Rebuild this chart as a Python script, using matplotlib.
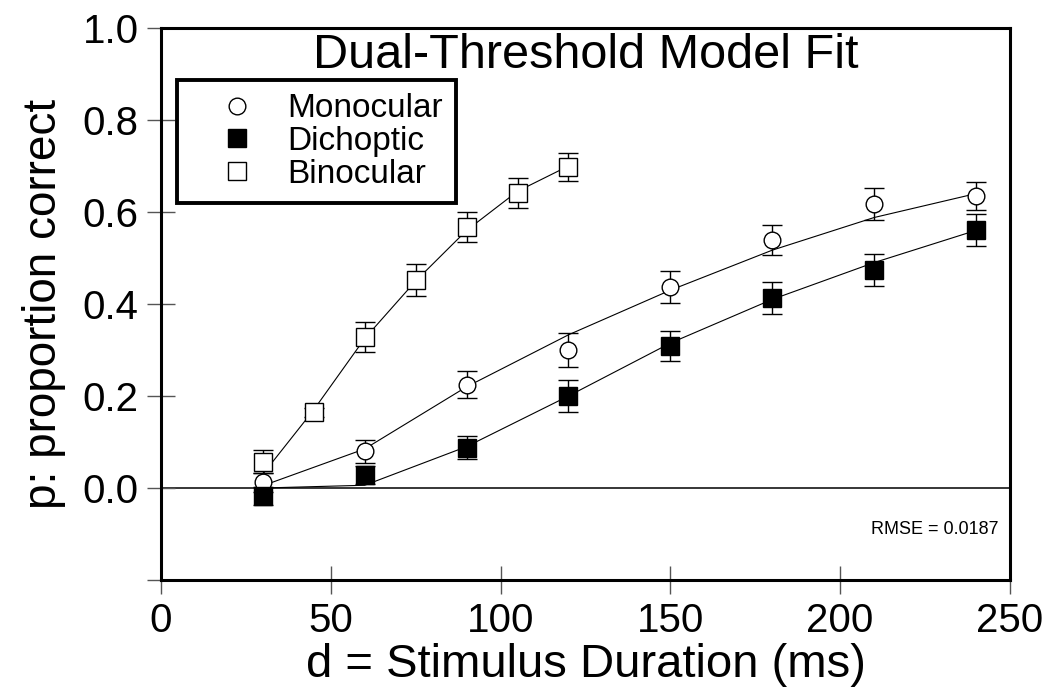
import matplotlib.pyplot as plt
from matplotlib.ticker import FixedLocator, FixedFormatter

plt.rcParams['font.family'] = ['Liberation Sans', 'DejaVu Sans']

# durations (ms)
mono_d = [30, 60, 90, 120, 150, 180, 210, 240]
dich_d = [30, 60, 90, 120, 150, 180, 210, 240]
bino_d = [30, 45, 60, 75, 90, 105, 120]

# observed proportion correct and error bars
mono_p = [0.012, 0.080, 0.225, 0.300, 0.437, 0.539, 0.617, 0.635]
mono_err = [0.02, 0.025, 0.030, 0.036, 0.035, 0.033, 0.035, 0.030]
dich_p = [-0.017, 0.028, 0.087, 0.200, 0.309, 0.413, 0.474, 0.561]
dich_err = [0.02, 0.020, 0.025, 0.034, 0.033, 0.034, 0.035, 0.034]
bino_p = [0.057, 0.165, 0.328, 0.452, 0.567, 0.641, 0.698]
bino_err = [0.025, 0.010, 0.032, 0.034, 0.033, 0.032, 0.030]

# model fit values
mono_fit = [0.005, 0.085, 0.220, 0.333, 0.430, 0.517, 0.588, 0.640]
dich_fit = [0.000, 0.006, 0.090, 0.200, 0.315, 0.410, 0.490, 0.560]
bino_fit = [0.030, 0.170, 0.325, 0.450, 0.560, 0.645, 0.700]

x_ticks = [0, 50, 100, 150, 200, 250]
y_ticks = [-0.2, 0.0, 0.2, 0.4, 0.6, 0.8, 1.0]
y_labels = ["", "0.0", "0.2", "0.4", "0.6", "0.8", "1.0"]
rmse_text = "RMSE = 0.0187"

fig = plt.figure(figsize=(10.52, 7.0), dpi=100)
ax = fig.add_axes([0.153, 0.1714, 0.807, 0.7886])

ax.axhline(0, color="black", lw=1.1, zorder=1)

for d, f in [(mono_d, mono_fit), (dich_d, dich_fit), (bino_d, bino_fit)]:
    ax.plot(d, f, color="black", lw=0.8, zorder=2)

eb = dict(ecolor="black", elinewidth=1.0, capsize=7, capthick=1.0, ls="none",
          markeredgecolor="black", markeredgewidth=1.0, zorder=3)
ax.errorbar(mono_d, mono_p, yerr=mono_err, fmt="o", ms=12, mfc="white",
            label="Monocular", **eb)
ax.errorbar(dich_d, dich_p, yerr=dich_err, fmt="s", ms=13, mfc="black",
            label="Dichoptic", **eb)
ax.errorbar(bino_d, bino_p, yerr=bino_err, fmt="s", ms=13, mfc="white",
            label="Binocular", **eb)

ax.set_xlim(0, 250)
ax.set_ylim(-0.2, 1.0)
ax.xaxis.set_major_locator(FixedLocator(x_ticks))
ax.yaxis.set_major_locator(FixedLocator(y_ticks))
ax.yaxis.set_major_formatter(FixedFormatter(y_labels))
ax.tick_params(direction="inout", length=20, width=1, color="#555555",
               labelsize=29, pad=6)

for s in ax.spines.values():
    s.set_linewidth(2.2)

ax.set_xlabel("d = Stimulus Duration (ms)", fontsize=34, labelpad=2)
ax.set_ylabel("p: proportion correct", fontsize=33, labelpad=12)

ax.text(0.5, 0.951, "Dual-Threshold Model Fit", transform=ax.transAxes,
        ha="center", va="center", fontsize=35)
ax.text(246.5, -0.091, rmse_text, ha="right", va="center", fontsize=13)

handles, labels = ax.get_legend_handles_labels()
handles = [h[0] for h in handles]
leg = ax.legend(handles, labels, loc="upper left", bbox_to_anchor=(0.0188, 0.906),
                fontsize=24, frameon=True, fancybox=False, framealpha=1,
                borderpad=0.4, handlelength=2.8, handletextpad=0.1,
                labelspacing=0.05, borderaxespad=0)
leg.get_frame().set_edgecolor("black")
leg.get_frame().set_linewidth(2.8)

fig.savefig("out.png", dpi=100)
